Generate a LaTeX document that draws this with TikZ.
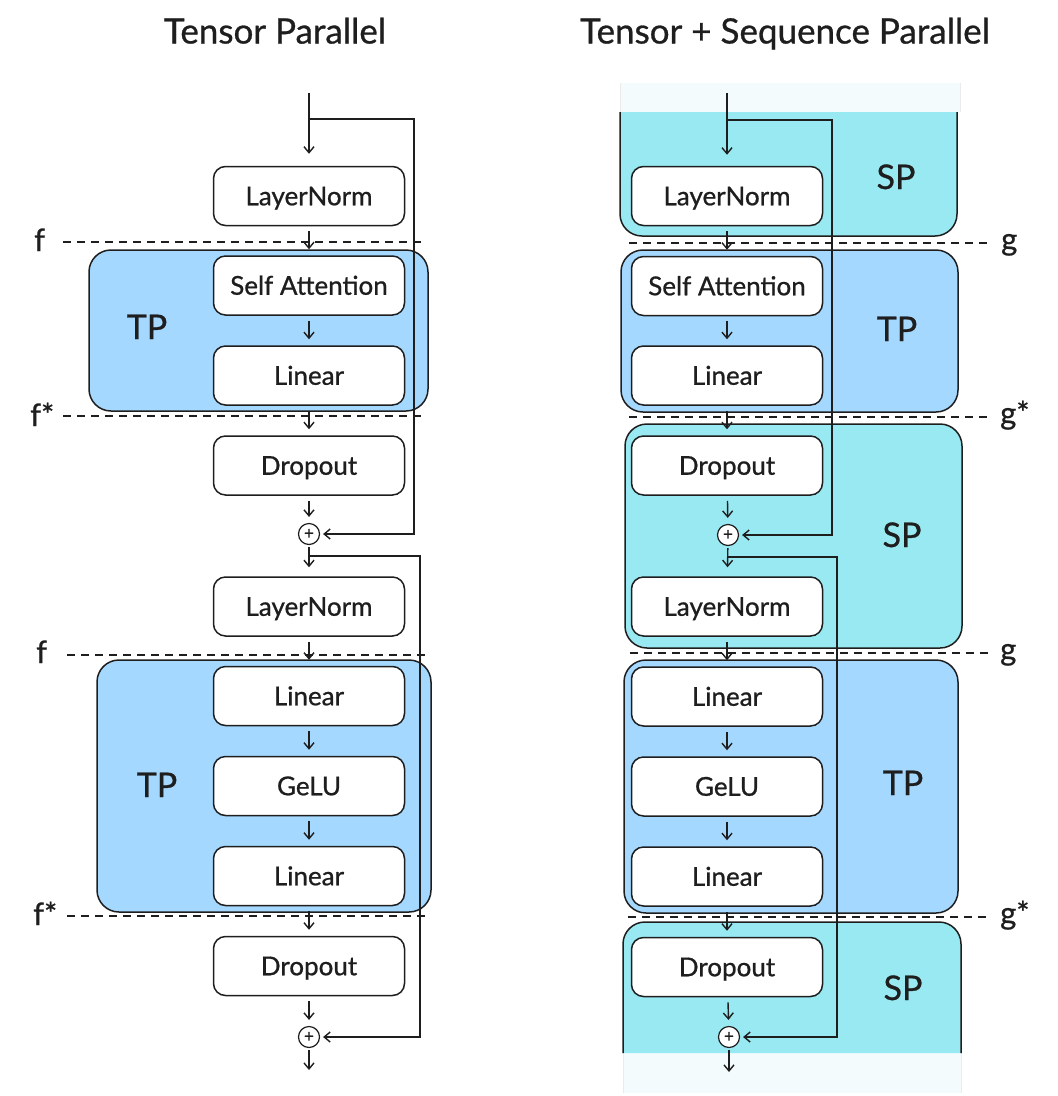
\documentclass[tikz,border=0pt]{standalone}
\usepackage{fontspec}
\setmainfont{Lato}[FakeBold=0.8]
\usetikzlibrary{arrows.meta}
\definecolor{ink}{HTML}{1E1E1E}
\definecolor{tpblue}{HTML}{A5D8FF}
\definecolor{spcyan}{HTML}{99E9F2}
\definecolor{fade}{HTML}{F3FBFD}
\tikzset{
  block/.style={draw=ink, fill=white, line width=1.5pt, rounded corners=12pt,
    minimum width=191pt, minimum height=59pt, inner sep=0pt, text=ink,
    font=\fontsize{26}{30}\selectfont, text height=18.5pt, text depth=0pt},
  adder/.style={circle, draw=ink, fill=white, line width=1.2pt, minimum size=21pt,
    inner sep=0pt, text=ink, font=\fontsize{17}{17}\selectfont},
  flow/.style={-{Straight Barb[length=6pt,width=10pt]}, line width=1.4pt, draw=ink,
    shorten <=5pt, shorten >=6pt},
  skip/.style={-{Straight Barb[length=6pt,width=10pt]}, line width=1.4pt, draw=ink,
    shorten >=3pt},
  cut/.style={dash pattern=on 8pt off 6pt, line width=1.4pt, draw=ink},
  tpbox/.style={draw=ink, fill=tpblue, line width=1.5pt, rounded corners=22pt},
  spbox/.style={draw=ink, fill=spcyan, line width=1.5pt, rounded corners=22pt},
  grp/.style={text=ink, font=\fontsize{34}{38}\selectfont, text height=24pt, text depth=0pt},
  head/.style={text=ink, font=\fontsize{35}{40}\selectfont, text height=25pt, text depth=0pt},
  tag/.style={text=ink, font=\fontsize{31}{34}\selectfont, anchor=base west, inner sep=0pt},
}
\begin{document}
\begin{tikzpicture}[x=1pt,y=-1pt]
  \useasboundingbox (0,0) rectangle (1058,1096);
  \node[head] (titleL) at (275,31) {Tensor Parallel};
  \node[head] (titleR) at (785,31) {Tensor + Sequence Parallel};

  \begin{scope}
    \draw[tpbox] (89,250) rectangle (428,411);
    \draw[tpbox] (97,660) rectangle (431,912);
    \node[grp] (tpA) at (147,327) {TP};
    \node[grp] (tpB) at (157,785) {TP};

    \draw[cut] (63,242) -- (425,242);
    \draw[cut] (63,416) -- (422,416);
    \draw[cut] (67,655) -- (427,655);
    \draw[cut] (67,916) -- (427,916);
    \node[tag] (fA) at (34,251) {f};
    \node[tag] (fsA) at (30,426) {f*};
    \node[tag] (fB) at (36,663) {f};
    \node[tag] (fsB) at (33,925) {f*};

    \node[block] (lnA) at (309,196) {LayerNorm};
    \node[block] (attA) at (309,285.5) {Self Attention};
    \node[block] (linA) at (309,375.5) {Linear};
    \node[block] (dropA) at (309,465.5) {Dropout};
    \node[adder] (plusA) at (309,534) {+};
    \node[block] (lnB) at (309,606.5) {LayerNorm};
    \node[block] (linB) at (309,696) {Linear};
    \node[block] (geluB) at (309,786) {GeLU};
    \node[block] (linC) at (309,876) {Linear};
    \node[block] (dropB) at (309,966) {Dropout};
    \node[adder] (plusB) at (309,1037) {+};

    \coordinate (inA) at (309,93);
    \coordinate (outA) at (309,1070);
    \draw[flow, shorten <=0pt, shorten >=12pt] (inA) -- (lnA);
    \draw[flow] (lnA) -- (attA);
    \draw[flow] (attA) -- (linA);
    \draw[flow] (linA) -- (dropA);
    \draw[flow] (dropA) -- (plusA);
    \draw[flow, shorten <=2pt, shorten >=9pt] (plusA) -- (lnB);
    \draw[flow] (lnB) -- (linB);
    \draw[flow] (linB) -- (geluB);
    \draw[flow] (geluB) -- (linC);
    \draw[flow] (linC) -- (dropB);
    \draw[flow] (dropB) -- (plusB);
    \draw[flow, shorten <=2pt, shorten >=0pt] (plusB) -- (outA);

    \coordinate (skA) at (309,119);
    \coordinate (skAr) at (414,119);
    \coordinate (skB) at (309,556);
    \coordinate (skBr) at (420,556);
    \draw[skip] (skA) -- (skAr) |- (plusA.east);
    \draw[skip] (skB) -- (skBr) |- (plusB.east);
  \end{scope}

  \begin{scope}
    \fill[fade] (620,83) rectangle (960,112);
    \fill[fade] (623,1053) rectangle (961,1093);
    \draw[black!8, line width=1pt] (620,83) -- (620,112) (960,83) -- (960,112);
    \draw[black!8, line width=1pt] (623,1053) -- (623,1093) (961,1053) -- (961,1093);
    \draw[spbox] (620,112) -- (620,236) -- (957,236) -- (957,112);
    \draw[tpbox] (621,250) rectangle (958,412);
    \draw[spbox] (625,424) rectangle (962,648);
    \draw[tpbox] (624,660) rectangle (958,913);
    \draw[spbox] (623,1053) -- (623,922) -- (961,922) -- (961,1053);
    \node[grp] (spA) at (896,177) {SP};
    \node[grp] (tpC) at (897,329) {TP};
    \node[grp] (spB) at (902,535) {SP};
    \node[grp] (tpD) at (903,783) {TP};
    \node[grp] (spC) at (903,988) {SP};

    \draw[cut] (629,243) -- (988,243);
    \draw[cut] (629,417) -- (990,417);
    \draw[cut] (630,653) -- (988,653);
    \draw[cut] (628,917) -- (990,917);
    \node[tag] (gA) at (1001,250) {g};
    \node[tag] (gsA) at (1000,424) {g*};
    \node[tag] (gB) at (1000,660) {g};
    \node[tag] (gsB) at (1000,924) {g*};

    \node[block] (lnR) at (727,196) {LayerNorm};
    \node[block] (attR) at (727,286) {Self Attention};
    \node[block] (linR) at (727,375.5) {Linear};
    \node[block] (dropR) at (727,465.5) {Dropout};
    \node[adder] (plusR) at (728,535) {+};
    \node[block] (lnS) at (727,606.5) {LayerNorm};
    \node[block] (linS) at (727,696.5) {Linear};
    \node[block] (geluS) at (727,786.5) {GeLU};
    \node[block] (linT) at (727,876.5) {Linear};
    \node[block] (dropS) at (727,967) {Dropout};
    \node[adder] (plusS) at (729,1037) {+};

    \coordinate (inR) at (727,93);
    \coordinate (outR) at (729,1072);
    \draw[flow, shorten <=0pt, shorten >=11pt] (inR) -- (lnR);
    \draw[flow] (lnR) -- (attR);
    \draw[flow] (attR) -- (linR);
    \draw[flow] (linR) -- (dropR);
    \draw[flow] (dropR) -- (plusR);
    \draw[flow, shorten <=2pt, shorten >=9pt] (plusR) -- (lnS);
    \draw[flow] (lnS) -- (linS);
    \draw[flow] (linS) -- (geluS);
    \draw[flow] (geluS) -- (linT);
    \draw[flow] (linT) -- (dropS);
    \draw[flow] (dropS) -- (plusS);
    \draw[flow, shorten <=2pt, shorten >=0pt] (plusS) -- (outR);

    \coordinate (skR) at (727,120);
    \coordinate (skRr) at (832,120);
    \coordinate (skS) at (728,557);
    \coordinate (skSr) at (837,557);
    \draw[skip] (skR) -- (skRr) |- (plusR.east);
    \draw[skip] (skS) -- (skSr) |- (plusS.east);
  \end{scope}
\end{tikzpicture}
\end{document}
